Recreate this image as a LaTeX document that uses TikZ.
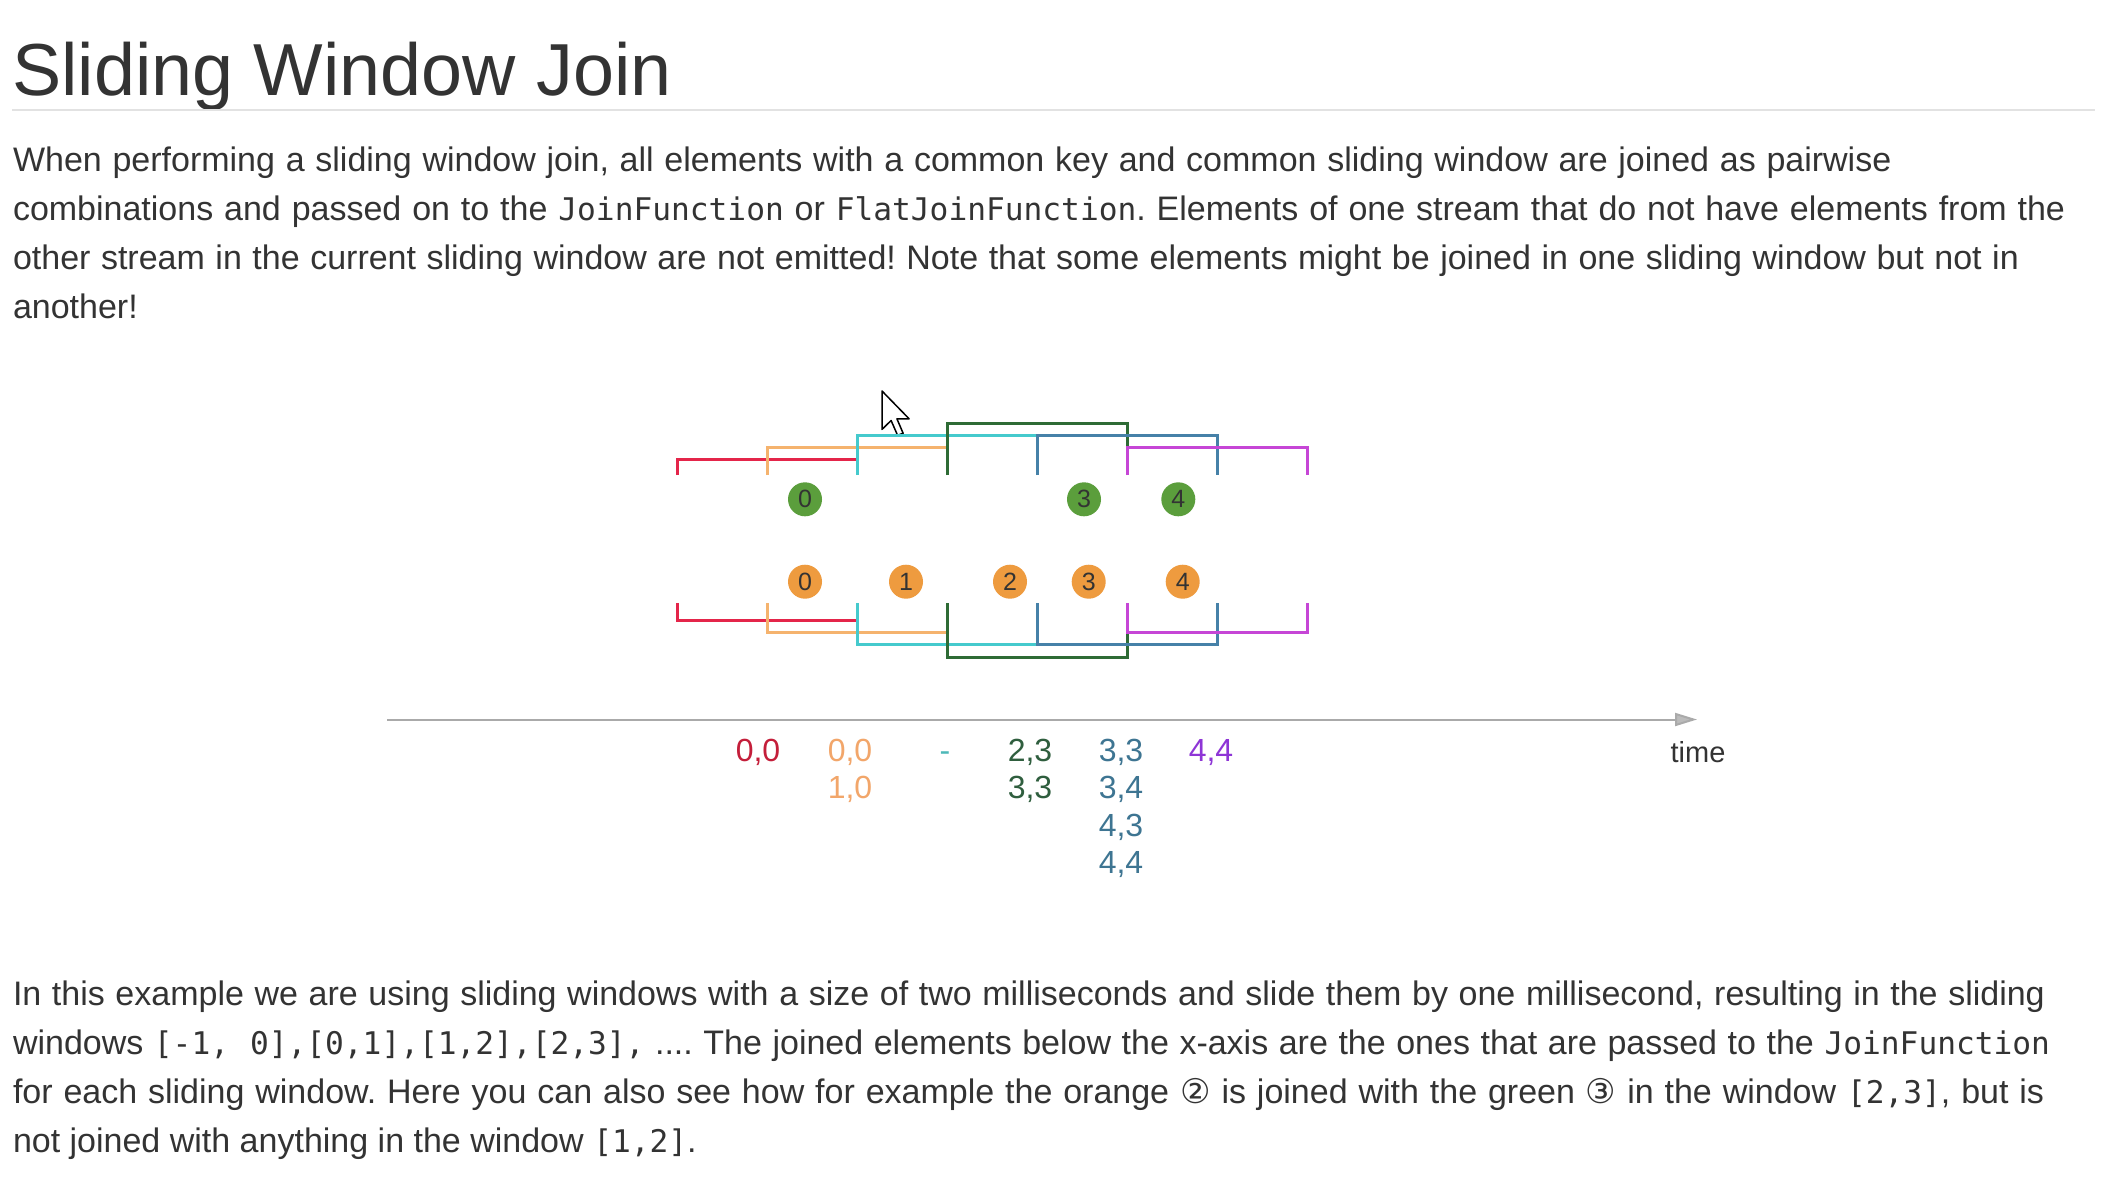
\documentclass[tikz,border=0pt]{standalone}
\usepackage{fontspec}
\setmainfont{Liberation Sans}
\newfontfamily\codefont{DejaVu Sans Mono}
\newfontfamily\symfont{DejaVu Sans}
\usetikzlibrary{arrows.meta}
\definecolor{txt}{HTML}{333333}
\definecolor{rulegray}{HTML}{E2E2E2}
\definecolor{axgray}{HTML}{AAAAAA}
\definecolor{bred}{HTML}{E4254A}
\definecolor{bor}{HTML}{F5B36E}
\definecolor{bcy}{HTML}{45CACD}
\definecolor{bgr}{HTML}{2E6B35}
\definecolor{bbl}{HTML}{4681A8}
\definecolor{bpu}{HTML}{C646D6}
\definecolor{cgreen}{HTML}{5B9E3C}
\definecolor{corange}{HTML}{EE9B3F}
\definecolor{lred}{HTML}{C41E3A}
\definecolor{lor}{HTML}{F2A66A}
\definecolor{lcy}{HTML}{4DB8B8}
\definecolor{lgr}{HTML}{2F5E3E}
\definecolor{lbl}{HTML}{3E7592}
\definecolor{lpu}{HTML}{8E35D6}
\newcommand\cdf[1]{{\codefont\fontsize{31.2}{36}\selectfont #1}}
\newcommand\circd[1]{{\symfont #1}}
\frenchspacing
\begin{document}
\begin{tikzpicture}[x=1pt,y=-1pt,
  bodytext/.style={anchor=base west, inner sep=0pt, outer sep=0pt, text=txt, font=\fontsize{34}{40}\selectfont},
  bracket/.style={line width=3pt, line cap=butt, line join=miter},
  gball/.style={circle, fill=cgreen, minimum size=34pt, inner sep=0pt, text=txt, font=\fontsize{25}{27}\selectfont},
  oball/.style={circle, fill=corange, minimum size=34pt, inner sep=0pt, text=txt, font=\fontsize{25}{27}\selectfont},
  pairlabel/.style={anchor=base, inner sep=0pt, font=\fontsize{32}{36}\selectfont}]
\useasboundingbox[fill=white] (0,0) rectangle (2108,1186);

% title
\node[anchor=base west, inner sep=0pt, text=txt, font=\fontsize{73.7}{80}\selectfont] (title) at (12,95) {Sliding Window Join};
\coordinate (ruleA) at (12,110);
\coordinate (ruleB) at (2095,110);
\draw[rulegray, line width=1.5pt] (ruleA) -- (ruleB);

% first paragraph
\node[bodytext] (p1) at (13,171.7) {\makebox[1878.6pt][s]{When performing a sliding window join, all elements with a common key and common sliding window are joined as pairwise}};
\node[bodytext] (p2) at (13,220.7) {\makebox[2052pt][s]{combinations and passed on to the \cdf{JoinFunction} or \cdf{FlatJoinFunction}. Elements of one stream that do not have elements from the}};
\node[bodytext] (p3) at (13,269.7) {\makebox[2006pt][s]{other stream in the current sliding window are not emitted! Note that some elements might be joined in one sliding window but not in}};
\node[bodytext] (p4) at (13,318.7) {another!};

% cursor
\filldraw[fill=white, draw=black, line width=1.5pt, line join=round]
  (882,391) -- (882,429.4) -- (891.1,420.5) -- (897.6,435.4) -- (903.1,433.2) -- (896.9,418.8) -- (909.1,418.8) -- cycle;

% window brackets
\foreach \cc/\xa/\xb/\ya/\yb in {bred/677/857/459/620, bor/767/947/447/632, bcy/857/1037/435/644, bgr/947/1127/423/657, bbl/1037/1217/435/644, bpu/1127/1307/447/632}{
  \draw[bracket, draw=\cc] (\xa,475) -- (\xa,\ya) -- (\xb,\ya) -- (\xb,475);
  \draw[bracket, draw=\cc] (\xa,603) -- (\xa,\yb) -- (\xb,\yb) -- (\xb,603);
}

% green stream
\node[gball] (g0) at (805,499.3) {0};
\node[gball] (g3) at (1084,499.3) {3};
\node[gball] (g4) at (1178.3,499.3) {4};
% orange stream
\node[oball] (o0) at (805,581.7) {0};
\node[oball] (o1) at (906,581.7) {1};
\node[oball] (o2) at (1010,581.7) {2};
\node[oball] (o3) at (1088.7,581.7) {3};
\node[oball] (o4) at (1182.7,581.7) {4};

% time axis
\coordinate (axstart) at (387,719.5);
\coordinate (axend) at (1697,719.5);
\draw[axgray, line width=2pt, -{Triangle[length=22pt,width=13pt,fill=axgray!80]}] (axstart) -- (axend);
\node[anchor=base, inner sep=0pt, text=txt, font=\fontsize{29}{32}\selectfont] (time) at (1698,762) {time};

% joined pairs
\node[pairlabel, text=lred] (r1) at (758,761.5) {0,0};
\node[pairlabel, text=lor] (or1) at (850,761.5) {0,0};
\node[pairlabel, text=lor] (or2) at (850,798.8) {1,0};
\node[pairlabel, text=lcy] (cy1) at (945,761.5) {-};
\node[pairlabel, text=lgr] (gr1) at (1030,761.5) {2,3};
\node[pairlabel, text=lgr] (gr2) at (1030,798.8) {3,3};
\node[pairlabel, text=lbl] (bl1) at (1121,761.5) {3,3};
\node[pairlabel, text=lbl] (bl2) at (1121,798.8) {3,4};
\node[pairlabel, text=lbl] (bl3) at (1121,836.1) {4,3};
\node[pairlabel, text=lbl] (bl4) at (1121,873.4) {4,4};
\node[pairlabel, text=lpu] (pu1) at (1211,761.5) {4,4};

% second paragraph
\node[bodytext] (q1) at (13,1005) {\makebox[2032pt][s]{In this example we are using sliding windows with a size of two milliseconds and slide them by one millisecond, resulting in the sliding}};
\node[bodytext] (q2) at (13,1054) {\makebox[2037pt][s]{windows \cdf{[-1, 0],[0,1],[1,2],[2,3],} .... The joined elements below the x-axis are the ones that are passed to the \cdf{JoinFunction}}};
\node[bodytext] (q3) at (13,1103) {\makebox[2031pt][s]{for each sliding window. Here you can also see how for example the orange \circd{②} is joined with the green \circd{③} in the window \cdf{[2,3]}, but is}};
\node[bodytext] (q4) at (13,1152) {not joined with anything in the window \cdf{[1,2]}.};
\end{tikzpicture}
\end{document}
